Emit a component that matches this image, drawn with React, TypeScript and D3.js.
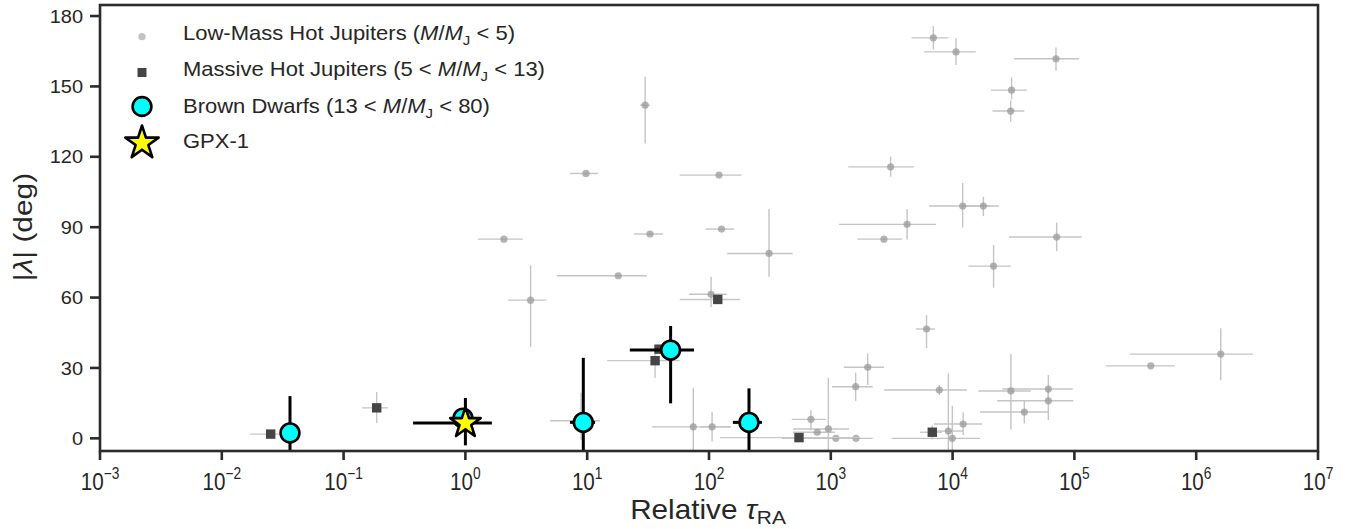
import React from 'react';
import * as d3 from 'd3';

// [tau, lambda, tauLo, tauHi, lambdaLo, lambdaHi]
type Row = [number, number, number | null, number | null, number | null, number | null];

const lowMass: Row[] = [
  [29.9, 142.0, 27.2, 32.8, 125.7, 154.1],
  [9.77, 112.9, 7.23, 12.3, null, null],
  [120.8, 112.2, 57.5, 185, null, null],
  [2.07, 84.9, 1.27, 2.95, null, null],
  [32.8, 87.1, 24.2, 41.9, null, null],
  [126.7, 89.2, 93.7, 160, null, null],
  [311, 78.8, 141, 486, 68.9, 97.7],
  [18.0, 69.3, 5.65, 30.8, null, null],
  [3.43, 58.9, 2.24, 4.59, 39.0, 73.8],
  [104, 61.4, 68.5, 140, 56.0, 68.9],
  [74.3, 4.9, 33.9, 149, -12, 21.4],
  [106, 4.9, 84.3, 152, -1.4, 11.3],
  [8.9, 7.5, 4.96, 12.7, -0.7, 19.4],
  [6950, 170.7, 4610, 9230, 165.8, 175.7],
  [10670, 164.7, 5820, 15500, 159.1, 170.5],
  [70600, 161.8, 31900, 109000, 156.7, 166.6],
  [30500, 148.4, 20600, 40600, 144.5, 153.8],
  [30000, 139.5, 21300, 38800, 134.9, 144.0],
  [3100, 115.7, 1390, 4820, 111.5, 120.0],
  [12100, 99.0, 6400, 20300, 89.9, 108.9],
  [17900, 99.0, 11900, 24000, 94.7, 103.0],
  [4230, 91.2, 1170, 7310, 84.8, 97.7],
  [2730, 84.9, 1650, 3840, null, null],
  [71500, 85.8, 29000, 115000, 79.8, 91.9],
  [21700, 73.4, 13500, 30000, 64.2, 82.4],
  [6110, 46.6, 5000, 7160, 38.4, 52.5],
  [2010, 30.3, 1280, 2730, 22.7, 36.2],
  [1600, 22.0, 1020, 2210, 16.0, 28.0],
  [7780, 20.6, 2750, 13100, 18.5, 22.7],
  [687, 8.1, 478, 908, 3.4, 12.0],
  [774, 2.6, 490, 1080, null, null],
  [955, 4.0, 490, 1410, -12, 25.8],
  [1100, 0.0, 397, 1740, null, null],
  [1610, 0.0, 1000, 2210, null, null],
  [9230, 3.1, 6900, 12200, -12, 27.7],
  [9950, 0.0, 3160, 16800, -12, 13.9],
  [12200, 6.1, 7030, 17500, 1.4, 11.1],
  [30100, 20.2, 16300, 43800, 3.8, 35.9],
  [61100, 21.0, 25600, 96800, 16.0, 27.0],
  [61100, 16.0, 23300, 98000, 7.8, 21.0],
  [38800, 11.2, 16800, 61100, 6.4, 16.0],
  [424000, 30.9, 182000, 670000, null, null],
  [1590000, 35.9, 286000, 2910000, 24.8, 46.9],
];

const massive: Row[] = [
  [0.0252, 1.8, 0.0171, 0.0363, null, null],
  [0.187, 13.0, 0.142, 0.232, 6.5, 19.7],
  [118, 59.2, 57.5, 180, null, null],
  [36.1, 33.1, 14.6, 57.5, 25.7, 38.9],
  [38.9, 38.0, null, null, null, null],
  [548, 0.3, 123, 1740, null, null],
  [6810, 2.6, 5400, 8180, -0.5, 5.5],
];

const brownDwarfs: Row[] = [
  [0.0363, 2.3, null, null, -12, 18.0],
  [0.955, 8.6, null, null, null, null],
  [9.29, 6.8, 7.23, 11.6, -20, 34.3],
  [48.4, 37.6, 22.4, 75.3, 14.9, 47.9],
  [213, 6.8, 157, 272, -8, 21.3],
];

const gpx1: Row[] = [[1.0, 6.5, 0.372, 1.65, -3, 17.2]];

const xTickExps = [-3, -2, -1, 0, 1, 2, 3, 4, 5, 6, 7];
const yTicks = [0, 30, 60, 90, 120, 150, 180];

const legendItems = [
  { key: 'low', pre: 'Low-Mass Hot Jupiters (', post: ' < 5)' },
  { key: 'massive', pre: 'Massive Hot Jupiters (5 < ', post: ' < 13)' },
  { key: 'bd', pre: 'Brown Dwarfs (13 < ', post: ' < 80)' },
  { key: 'gpx', pre: 'GPX-1', post: '' },
];

const W = 1349;
const H = 529;
const L = 100, R = 1318, T = 5, B = 451;
const FONT = 'Liberation Sans, Arial, sans-serif';

function starPath(cx: number, cy: number, ro: number) {
  const ri = ro * 0.381966;
  const pts: [number, number][] = [];
  for (let i = 0; i < 10; i++) {
    const r = i % 2 === 0 ? ro : ri;
    const a = -Math.PI / 2 + (i * Math.PI) / 5;
    pts.push([cx + r * Math.cos(a), cy + r * Math.sin(a)]);
  }
  return d3.line()(pts)! + 'Z';
}

function ErrBars({ rows, x, y, color, width }: any) {
  return (
    <g stroke={color} strokeWidth={width} fill="none">
      {rows.map((r: Row, i: number) => (
        <g key={i}>
          {r[2] != null && r[3] != null && (
            <line x1={x(r[2])} x2={x(r[3])} y1={y(r[1])} y2={y(r[1])} />
          )}
          {r[4] != null && r[5] != null && (
            <line x1={x(r[0])} x2={x(r[0])} y1={y(r[4])} y2={y(r[5])} />
          )}
        </g>
      ))}
    </g>
  );
}

function MJ() {
  return (
    <>
      <tspan fontStyle="italic">M</tspan>
      <tspan>/</tspan>
      <tspan fontStyle="italic">M</tspan>
      <tspan fontSize="0.68em" dy={5}>J</tspan>
    </>
  );
}

export default function App() {
  const x = d3.scaleLog().domain([1e-3, 1e7]).range([L, R]);
  const y = d3.scaleLinear().domain([-5.4, 184.7]).range([B, T]);

  const legendY = [36.7, 72.5, 106.5, 142];
  const legendBase = [40, 76, 113, 148];
  const lx = 142;

  return (
    <svg
      width={W}
      height={H}
      style={{ position: 'absolute', left: 0, top: 0, background: '#fff' }}
      fontFamily={FONT}
    >
      <defs>
        <clipPath id="plot">
          <rect x={L} y={T} width={R - L} height={B - T} />
        </clipPath>
      </defs>
      <g clipPath="url(#plot)">
        <ErrBars rows={lowMass} x={x} y={y} color="#c4c4c4" width={1.4} />
        <g fill="#9a9a9a" fillOpacity={0.75}>
          {lowMass.map((r, i) => (
            <circle key={i} cx={x(r[0])} cy={y(r[1])} r={3.6} />
          ))}
        </g>
        <ErrBars rows={massive} x={x} y={y} color="#c8c8c8" width={1.4} />
        <g fill="#454545">
          {massive.map((r, i) => (
            <rect key={i} x={x(r[0]) - 4.7} y={y(r[1]) - 4.7} width={9.4} height={9.4} />
          ))}
        </g>
        <ErrBars rows={brownDwarfs} x={x} y={y} color="#000" width={3} />
        <g fill="#00ffff" stroke="#000" strokeWidth={2.6}>
          {brownDwarfs.map((r, i) => (
            <circle key={i} cx={x(r[0])} cy={y(r[1])} r={9.4} />
          ))}
        </g>
        <ErrBars rows={gpx1} x={x} y={y} color="#000" width={3} />
        {gpx1.map((r, i) => (
          <path
            key={i}
            d={starPath(x(r[0]), y(r[1]), 16)}
            fill="#ffff00"
            stroke="#000"
            strokeWidth={2.6}
            strokeLinejoin="round"
          />
        ))}
      </g>

      {/* frame */}
      <rect x={L} y={T} width={R - L} height={B - T} fill="none" stroke="#2b2b2b" strokeWidth={2.6} />

      {/* x axis */}
      {xTickExps.map((e) => (
        <g key={e} transform={`translate(${x(Math.pow(10, e))},0)`}>
          <line y1={B} y2={B + 9} stroke="#2b2b2b" strokeWidth={2.6} />
          <g transform="translate(0,490) scale(0.86,1)">
            <text x={0} y={0} textAnchor="middle" fontSize={24} fill="#262626">
              <tspan>10</tspan>
              <tspan fontSize={16} dy={-11}>{e < 0 ? '\u2212' + Math.abs(e) : String(e)}</tspan>
            </text>
          </g>
        </g>
      ))}
      <g transform="translate(708,519) scale(1.1,1)">
        <text x={0} y={0} textAnchor="middle" fontSize={27} fill="#262626">
          Relative <tspan fontStyle="italic">τ</tspan>
          <tspan fontSize={19} dy={5}>RA</tspan>
        </text>
      </g>

      {/* y axis */}
      {yTicks.map((t) => (
        <g key={t} transform={`translate(0,${y(t)})`}>
          <line x1={L - 10} x2={L} stroke="#2b2b2b" strokeWidth={2.6} />
          <g transform="translate(83,0) scale(1.08,1)">
            <text x={0} dy="0.36em" textAnchor="end" fontSize={18.5} fill="#262626">
              {t}
            </text>
          </g>
        </g>
      ))}
      <g transform={`translate(32,227) rotate(-90) scale(1.15,1)`}>
        <text x={0} y={0} textAnchor="middle" fontSize={26} fill="#262626">
          |<tspan fontStyle="italic">λ</tspan>| (deg)
        </text>
      </g>

      {/* legend */}
      <circle cx={lx} cy={legendY[0]} r={3.6} fill="#c2c2c2" />
      <rect x={lx - 4.5} y={legendY[1] - 4.5} width={9} height={9} fill="#454545" />
      <circle cx={lx} cy={legendY[2]} r={9.4} fill="#00ffff" stroke="#000" strokeWidth={2.6} />
      <path d={starPath(lx, legendY[3] + 1, 17.5)} fill="#ffff00" stroke="#000" strokeWidth={2.6} strokeLinejoin="round" />
      {legendItems.map((it, i) => (
        <g key={it.key} transform={`translate(183,${legendBase[i]}) scale(1.1,1)`}>
          <text x={0} y={0} fontSize={20} fill="#262626">
            <tspan>{it.pre}</tspan>
            {it.key !== 'gpx' && <MJ />}
            {it.key !== 'gpx' && <tspan dy={-5}>{it.post}</tspan>}
          </text>
        </g>
      ))}
    </svg>
  );
}
